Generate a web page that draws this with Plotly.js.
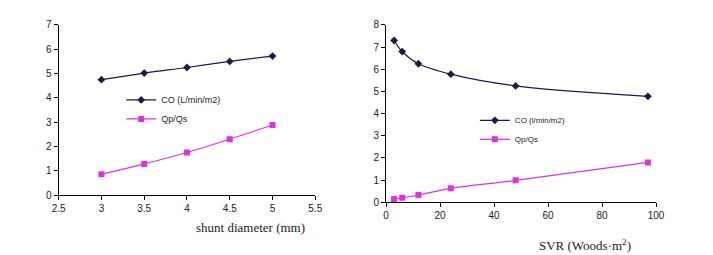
<!DOCTYPE html>
<html><head><meta charset="utf-8">
<script src="https://cdn.plot.ly/plotly-3.0.1.min.js"></script>
<style>body{margin:0;background:#fff}#c{width:713px;height:255px}</style>
</head><body><div id="c"></div>
<script>
// Left panel: shunt diameter
const shuntDiameter = [3, 3.5, 4, 4.5, 5];
const coShunt = [4.75, 5.02, 5.25, 5.5, 5.72];
const qpqsShunt = [0.85, 1.28, 1.75, 2.3, 2.88];
// Right panel: SVR
const svr = [3, 6, 12, 24, 48, 97];
const coSvr = [7.3, 6.8, 6.25, 5.78, 5.25, 4.78];
const qpqsSvr = [0.15, 0.2, 0.33, 0.63, 0.99, 1.8];

const navy = '#1b1b4d', mag = '#dd33dd';
const tickFont = {family: 'Liberation Sans, Arial', size: 10, color: '#222'};
const traces = [
  {x: shuntDiameter, y: coShunt, name: 'CO (L/min/m2)', mode: 'lines+markers', xaxis: 'x', yaxis: 'y', legend: 'legend',
   line: {color: navy, width: 1.2, shape: 'spline'}, marker: {symbol: 'diamond', size: 6, color: navy}},
  {x: shuntDiameter, y: qpqsShunt, name: 'Qp/Qs', mode: 'lines+markers', xaxis: 'x', yaxis: 'y', legend: 'legend',
   line: {color: mag, width: 1.2, shape: 'spline'}, marker: {symbol: 'square', size: 6, color: mag}},
  {x: svr, y: coSvr, name: 'CO (l/min/m2)', mode: 'lines+markers', xaxis: 'x2', yaxis: 'y2', legend: 'legend2',
   line: {color: navy, width: 1.2, shape: 'spline'}, marker: {symbol: 'diamond', size: 6, color: navy}},
  {x: svr, y: qpqsSvr, name: 'Qp/Qs', mode: 'lines+markers', xaxis: 'x2', yaxis: 'y2', legend: 'legend2',
   line: {color: mag, width: 1.2, shape: 'spline'}, marker: {symbol: 'square', size: 6, color: mag}}
];
const ax = {showgrid: false, zeroline: false, showline: true, linecolor: '#000', linewidth: 1,
  ticks: 'outside', ticklen: 4, tickcolor: '#000', tickfont: tickFont};
const layout = {
  width: 713, height: 255, margin: {l: 0, r: 0, t: 0, b: 0},
  paper_bgcolor: '#fff', plot_bgcolor: '#fff',
  xaxis: Object.assign({}, ax, {domain: [0.0823, 0.4422], range: [2.5, 5.5], dtick: 0.5, anchor: 'y', tickformat: '.1~f'}),
  yaxis: Object.assign({}, ax, {domain: [0.2353, 0.902], range: [0, 7], dtick: 1, anchor: 'x'}),
  xaxis2: Object.assign({}, ax, {domain: [0.5414, 0.9201], range: [0, 100], dtick: 20, anchor: 'y2'}),
  yaxis2: Object.assign({}, ax, {domain: [0.2067, 0.902], range: [0, 8], dtick: 1, anchor: 'x2'}),
  legend: {x: 0.17, y: 0.665, xanchor: 'left', yanchor: 'top', bgcolor: 'rgba(0,0,0,0)',
    font: {family: 'Liberation Sans, Arial', size: 9, color: '#222'}, tracegroupgap: 0, itemwidth: 30},
  legend2: {x: 0.666, y: 0.585, xanchor: 'left', yanchor: 'top', bgcolor: 'rgba(0,0,0,0)',
    font: {family: 'Liberation Sans, Arial', size: 8, color: '#222'}, tracegroupgap: 0, itemwidth: 30},
  annotations: [
    {text: 'shunt diameter (mm)', xref: 'paper', yref: 'paper', x: 250/713, y: 1 - 218/255,
     xanchor: 'center', yanchor: 'top',
     showarrow: false, font: {family: 'Liberation Serif, Times New Roman', size: 13, color: '#222'}},
    {text: 'SVR (Woods·m<sup>2</sup>)', xref: 'paper', yref: 'paper', x: 585/713, y: 1 - 245/255,
     xanchor: 'center', yanchor: 'middle',
     showarrow: false, font: {family: 'Liberation Serif, Times New Roman', size: 13, color: '#222'}}
  ]
};
Plotly.newPlot('c', traces, layout, {staticPlot: true});
</script></body></html>
